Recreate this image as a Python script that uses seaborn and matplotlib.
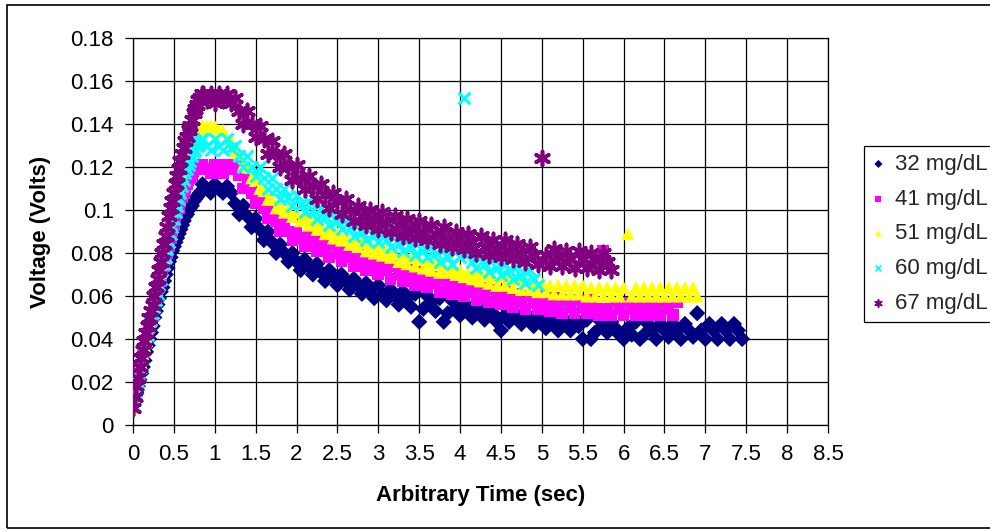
import numpy as np
import pandas as pd
import seaborn as sns
import matplotlib.pyplot as plt
from matplotlib.patches import Rectangle

# the traces are logged finer on the rising edge than on the decay
rise_step = 0.02     # sec, samples from t = 0
decay_step = 0.05    # sec, samples from t = decay_start
decay_start = 0.85

labels = ["32 mg/dL", "41 mg/dL", "51 mg/dL", "60 mg/dL", "67 mg/dL"]

rise32 = [0.010, 0.012, 0.015, 0.018, 0.021, 0.024, 0.027, 0.030, 0.034, 0.037,
          0.040, 0.043, 0.046, 0.050, 0.053, 0.056, 0.059, 0.062, 0.064, 0.067,
          0.070, 0.073, 0.076, 0.078, 0.081, 0.083, 0.085, 0.087, 0.089, 0.091,
          0.093, 0.095, 0.097, 0.098, 0.100, 0.101, 0.102, 0.104, 0.105, 0.106,
          0.107, 0.108, 0.109]
decay32 = [0.112, 0.110, 0.108, 0.112, 0.110, 0.108, 0.111, 0.108, 0.103, 0.098,
           0.102, 0.097, 0.092, 0.096, 0.091, 0.086, 0.090, 0.085, 0.080, 0.084,
           0.080, 0.076, 0.080, 0.076, 0.072, 0.077, 0.074, 0.070, 0.075, 0.071,
           0.067, 0.072, 0.069, 0.065, 0.070, 0.067, 0.063, 0.068, 0.065, 0.061,
           0.066, 0.063, 0.059, 0.065, 0.061, 0.058, 0.063, 0.060, 0.056, 0.062,
           0.059, 0.055, 0.061, 0.048, 0.054, 0.060, 0.057, 0.053, 0.059, 0.048,
           0.052, 0.058, 0.054, 0.051, 0.057, 0.053, 0.050, 0.056, 0.053, 0.049,
           0.055, 0.052, 0.048, 0.044, 0.051, 0.048, 0.053, 0.050, 0.047, 0.052,
           0.049, 0.046, 0.052, 0.048, 0.045, 0.051, 0.048, 0.044, 0.050, 0.047,
           0.044, 0.050, 0.046, 0.040, 0.049, 0.040, 0.043, 0.049, 0.046, 0.043,
           0.048, 0.045, 0.042, 0.040, 0.045, 0.042, 0.048, 0.040, 0.042, 0.047,
           0.044, 0.040, 0.047, 0.044, 0.041, 0.047, 0.044, 0.040, 0.047, 0.044,
           0.041, 0.052, 0.044, 0.040, 0.047, 0.044, 0.040, 0.047, 0.044, 0.040,
           0.047, 0.044, 0.040]

rise41 = [0.014, 0.016, 0.019, 0.022, 0.025, 0.028, 0.032, 0.035, 0.038, 0.042,
          0.045, 0.048, 0.051, 0.055, 0.058, 0.061, 0.064, 0.067, 0.071, 0.074,
          0.077, 0.080, 0.083, 0.087, 0.090, 0.093, 0.096, 0.099, 0.101, 0.104,
          0.106, 0.108, 0.110, 0.112, 0.114, 0.115, 0.116, 0.118, 0.119, 0.119,
          0.120, 0.121, 0.121]
decay41 = [0.121, 0.119, 0.117, 0.121, 0.119, 0.117, 0.121, 0.119, 0.121, 0.116,
           0.110, 0.114, 0.108, 0.103, 0.106, 0.101, 0.096, 0.100, 0.095, 0.090,
           0.094, 0.090, 0.086, 0.090, 0.087, 0.083, 0.088, 0.084, 0.081, 0.086,
           0.082, 0.078, 0.084, 0.080, 0.076, 0.081, 0.078, 0.074, 0.079, 0.075,
           0.072, 0.077, 0.074, 0.070, 0.075, 0.072, 0.068, 0.074, 0.070, 0.067,
           0.072, 0.069, 0.065, 0.071, 0.067, 0.064, 0.069, 0.066, 0.062, 0.068,
           0.064, 0.061, 0.067, 0.063, 0.060, 0.065, 0.062, 0.058, 0.064, 0.060,
           0.057, 0.063, 0.059, 0.056, 0.062, 0.058, 0.055, 0.061, 0.057, 0.054,
           0.060, 0.057, 0.054, 0.060, 0.056, 0.053, 0.059, 0.056, 0.052, 0.058,
           0.055, 0.052, 0.058, 0.055, 0.052, 0.058, 0.054, 0.051, 0.081, 0.054,
           0.051, 0.057, 0.054, 0.051, 0.057, 0.054, 0.051, 0.057, 0.054, 0.051,
           0.057, 0.054, 0.051, 0.057, 0.054, 0.051, 0.057]

rise51 = [0.008, 0.012, 0.017, 0.021, 0.025, 0.029, 0.033, 0.037, 0.041, 0.044,
          0.048, 0.051, 0.054, 0.057, 0.060, 0.064, 0.068, 0.071, 0.075, 0.078,
          0.082, 0.086, 0.089, 0.093, 0.096, 0.100, 0.103, 0.106, 0.110, 0.113,
          0.116, 0.118, 0.121, 0.123, 0.126, 0.128, 0.130, 0.132, 0.134, 0.136,
          0.137, 0.138, 0.139]
decay51 = [0.139, 0.139, 0.139, 0.139, 0.137, 0.137, 0.133, 0.132, 0.127, 0.126,
           0.121, 0.120, 0.115, 0.114, 0.110, 0.109, 0.105, 0.105, 0.101, 0.102,
           0.099, 0.100, 0.097, 0.099, 0.095, 0.097, 0.093, 0.095, 0.091, 0.093,
           0.089, 0.091, 0.087, 0.089, 0.086, 0.088, 0.084, 0.086, 0.083, 0.085,
           0.081, 0.084, 0.080, 0.082, 0.079, 0.081, 0.078, 0.080, 0.076, 0.079,
           0.075, 0.078, 0.074, 0.077, 0.073, 0.076, 0.072, 0.075, 0.071, 0.074,
           0.071, 0.073, 0.070, 0.072, 0.069, 0.071, 0.068, 0.070, 0.067, 0.070,
           0.066, 0.069, 0.065, 0.069, 0.065, 0.068, 0.064, 0.068, 0.063, 0.067,
           0.063, 0.066, 0.062, 0.066, 0.062, 0.065, 0.061, 0.065, 0.061, 0.065,
           0.061, 0.065, 0.061, 0.065, 0.060, 0.064, 0.060, 0.064, 0.060, 0.064,
           0.060, 0.064, 0.060, 0.064, 0.089, 0.060, 0.064, 0.060, 0.064, 0.060,
           0.064, 0.060, 0.064, 0.060, 0.064, 0.060, 0.064, 0.060, 0.064, 0.060,
           0.064, 0.060]

rise60 = [0.010, 0.013, 0.016, 0.020, 0.023, 0.027, 0.031, 0.035, 0.039, 0.042,
          0.046, 0.049, 0.052, 0.055, 0.058, 0.061, 0.065, 0.068, 0.072, 0.075,
          0.078, 0.082, 0.085, 0.089, 0.092, 0.096, 0.099, 0.102, 0.105, 0.108,
          0.111, 0.114, 0.117, 0.119, 0.121, 0.123, 0.125, 0.127, 0.128, 0.130,
          0.131, 0.132, 0.133]
decay60 = [0.133, 0.130, 0.128, 0.133, 0.130, 0.128, 0.133, 0.129, 0.130, 0.125,
           0.120, 0.125, 0.120, 0.116, 0.120, 0.115, 0.110, 0.115, 0.110, 0.105,
           0.110, 0.106, 0.102, 0.107, 0.103, 0.099, 0.104, 0.100, 0.096, 0.101,
           0.097, 0.093, 0.099, 0.095, 0.091, 0.096, 0.092, 0.088, 0.094, 0.090,
           0.086, 0.092, 0.088, 0.085, 0.090, 0.086, 0.083, 0.088, 0.084, 0.081,
           0.086, 0.083, 0.079, 0.085, 0.081, 0.078, 0.083, 0.080, 0.076, 0.082,
           0.078, 0.075, 0.081, 0.078, 0.152, 0.080, 0.076, 0.073, 0.078, 0.075,
           0.071, 0.077, 0.073, 0.070, 0.075, 0.072, 0.068, 0.074, 0.070, 0.066,
           0.072, 0.068, 0.065]

rise67 = [0.008, 0.013, 0.018, 0.022, 0.027, 0.031, 0.035, 0.039, 0.043, 0.046,
          0.050, 0.053, 0.056, 0.060, 0.064, 0.068, 0.072, 0.076, 0.080, 0.084,
          0.088, 0.092, 0.097, 0.101, 0.104, 0.108, 0.112, 0.116, 0.119, 0.123,
          0.126, 0.129, 0.132, 0.134, 0.137, 0.139, 0.142, 0.145, 0.147, 0.149,
          0.151, 0.152, 0.154]
decay67 = [0.154, 0.151, 0.154, 0.150, 0.154, 0.151, 0.154, 0.150, 0.152, 0.146,
           0.140, 0.146, 0.140, 0.134, 0.139, 0.133, 0.126, 0.132, 0.126, 0.120,
           0.126, 0.120, 0.114, 0.121, 0.115, 0.110, 0.116, 0.111, 0.105, 0.112,
           0.107, 0.101, 0.108, 0.104, 0.098, 0.105, 0.100, 0.095, 0.102, 0.097,
           0.093, 0.100, 0.096, 0.091, 0.099, 0.094, 0.090, 0.097, 0.093, 0.088,
           0.096, 0.091, 0.087, 0.095, 0.090, 0.086, 0.093, 0.089, 0.084, 0.092,
           0.087, 0.083, 0.090, 0.086, 0.082, 0.089, 0.085, 0.080, 0.088, 0.083,
           0.079, 0.086, 0.082, 0.078, 0.086, 0.081, 0.077, 0.084, 0.080, 0.076,
           0.083, 0.079, 0.075, 0.124, 0.079, 0.074, 0.082, 0.078, 0.074, 0.081,
           0.077, 0.073, 0.081, 0.077, 0.073, 0.080, 0.077, 0.072, 0.080, 0.076,
           0.072]

x_ticks = [0, 0.5, 1, 1.5, 2, 2.5, 3, 3.5, 4, 4.5, 5, 5.5, 6, 6.5, 7, 7.5, 8, 8.5]
x_tick_labels = ["0", "0.5", "1", "1.5", "2", "2.5", "3", "3.5", "4", "4.5",
                 "5", "5.5", "6", "6.5", "7", "7.5", "8", "8.5"]
y_ticks = [0, 0.02, 0.04, 0.06, 0.08, 0.1, 0.12, 0.14, 0.16, 0.18]
y_tick_labels = ["0", "0.02", "0.04", "0.06", "0.08", "0.1", "0.12", "0.14", "0.16", "0.18"]

rises = [rise32, rise41, rise51, rise60, rise67]
decays = [decay32, decay41, decay51, decay60, decay67]
colors = ["#000080", "#FF00FF", "#FFFF00", "#00FFFF", "#800080"]
markers = ["D", "s", "^", "x", (6, 2, 0)]
sizes = [68, 72, 88, 72, 105]
line_widths = [0, 0, 0, 2.2, 2.6]

sns.set_theme(style="white")
plt.rcParams["font.family"] = ["Liberation Sans", "DejaVu Sans"]

fig = plt.figure(figsize=(9.9, 5.31), dpi=100)
ax = fig.add_axes([133 / 990, 1 - 425 / 531, 695 / 990, 387 / 531])

for lab, rise, decay, col, mk, sz, lw in zip(labels, rises, decays, colors,
                                             markers, sizes, line_widths):
    t = np.concatenate([np.arange(len(rise)) * rise_step,
                        decay_start + np.arange(len(decay)) * decay_step])
    df = pd.DataFrame({"time": t, "volts": rise + decay})
    kw = dict(edgecolor="none", linewidth=0) if lw == 0 else dict(linewidth=lw)
    sns.scatterplot(data=df, x="time", y="volts", ax=ax, color=col, marker=mk,
                    s=sz, label=lab, zorder=3, **kw)

ax.set_xlim(0, 8.5)
ax.set_ylim(0, 0.18)
ax.set_xticks(x_ticks)
ax.set_xticklabels(x_tick_labels)
ax.set_yticks(y_ticks)
ax.set_yticklabels(y_tick_labels)
ax.grid(True, color="black", linewidth=0.9)
ax.set_axisbelow(True)
for sp in ax.spines.values():
    sp.set_color("black")
    sp.set_linewidth(0.9)
ax.tick_params(axis="both", direction="out", length=5.8, width=0.9, color="black",
               labelsize=16, pad=8, labelcolor="black", bottom=True, left=True)

ax.set_xlabel("Arbitrary Time (sec)", fontsize=16, fontweight="bold", color="black")
ax.set_ylabel("Voltage (Volts)", fontsize=16, fontweight="bold", color="black")
ax.xaxis.set_label_coords(0.5, -0.155)
ax.yaxis.set_label_coords(-0.118, 0.5)

leg = ax.legend(loc="upper left", bbox_to_anchor=(864 / 990, 1 - 146 / 531),
                bbox_transform=fig.transFigure, borderaxespad=0, frameon=True,
                fancybox=False, edgecolor="black", fontsize=16, markerscale=0.5,
                handlelength=0.6, handletextpad=0.45, labelspacing=0.62,
                borderpad=0.35, framealpha=1)
leg.get_frame().set_linewidth(0.9)
for h in leg.legend_handles:
    if h.get_linewidth() is not None and len(h.get_linewidth()) and h.get_linewidth()[0] > 0:
        h.set_linewidth(1.2)

fig.patches.append(Rectangle((7 / 990, 1 - 528 / 531), 1.0, (528 - 5) / 531,
                             transform=fig.transFigure, fill=False,
                             edgecolor="black", linewidth=1.2))

fig.savefig("out.png", dpi=100, facecolor="white")
